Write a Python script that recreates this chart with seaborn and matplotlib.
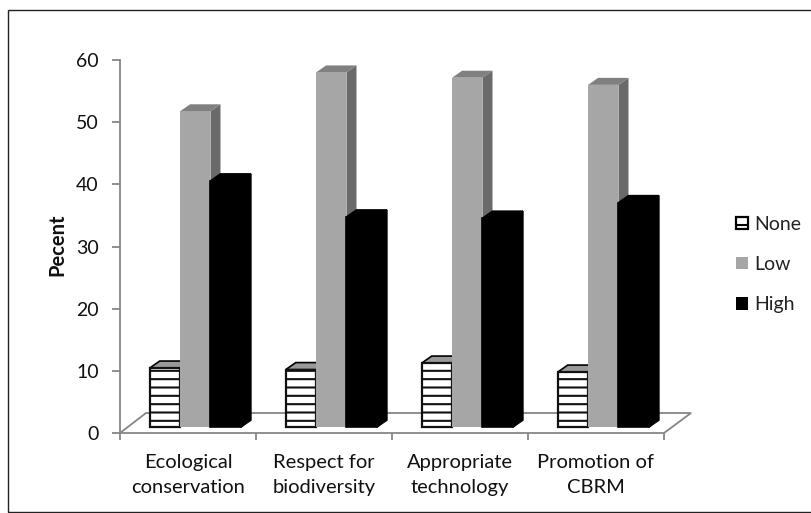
import matplotlib
matplotlib.use('Agg')
import matplotlib.pyplot as plt
import matplotlib.transforms as mtrans
from matplotlib.patches import Polygon, Patch, Rectangle
import pandas as pd
import seaborn as sns

categories = ['Ecological\nconservation', 'Respect for\nbiodiversity',
              'Appropriate\ntechnology', 'Promotion of\nCBRM']
none_vals = [9.5, 9.25, 10.3, 8.85]
low_vals = [50.8, 57.05, 56.2, 55.05]
high_vals = [39.6, 33.8, 33.6, 36.1]
levels = ['None', 'Low', 'High']

df = pd.DataFrame({'cat': categories, 'None': none_vals, 'Low': low_vals, 'High': high_vals})
df = df.melt(id_vars='cat', var_name='level', value_name='pct')

W, H = 812, 513
GREY = '#868686'
sns.set_theme(style='white')
plt.rcParams['font.family'] = ['Lato', 'DejaVu Sans']
plt.rcParams['hatch.linewidth'] = 1.5

fig = plt.figure(figsize=(W / 100, H / 100), dpi=100)
# axes box in pixels: x 120-664, y 60-433
ax = fig.add_axes([120 / W, 1 - 433 / H, 544 / W, 373 / H])

front = {'None': '#ffffff', 'Low': '#a6a6a6', 'High': '#000000'}
sns.barplot(data=df, x='cat', y='pct', hue='level', hue_order=levels, palette=front,
            width=0.67, gap=0, dodge=True, saturation=1, legend=False, ax=ax,
            bottom=0.95, errorbar=None)
ax.set_xlim(-0.5, 3.5)
ax.set_ylim(0, 60)

# 3d look, everything shifted in pixels from the real bars
shift = ax.transData + mtrans.ScaledTranslation(7.3 / 100, 0, fig.dpi_scale_trans)
dx, dy = 10, 7
top_col = {'None': '#ffffff', 'Low': '#808080', 'High': '#000000'}
side_col = {'None': '#ffffff', 'Low': '#6a6a6a', 'High': '#000000'}

for lev, cont in zip(levels, ax.containers):
    for bar in cont:
        bar.set_transform(shift)
        bar.set_clip_on(False)
        x0, y0 = shift.transform((bar.get_x(), bar.get_y()))
        x1, y1 = shift.transform((bar.get_x() + bar.get_width(), bar.get_y() + bar.get_height()))
        side = [(x1, y0), (x1 + dx, y0 + dy), (x1 + dx, y1 + dy), (x1, y1)]
        top = [(x0, y1), (x0 + dx, y1 + dy), (x1 + dx, y1 + dy), (x1, y1)]
        z = 3 + levels.index(lev)
        bar.set_zorder(z + 0.2)
        if lev == 'None':
            bar.set_hatch('--')
            bar.set_edgecolor('#111111')
            bar.set_linewidth(1.6)
            ax.add_patch(Polygon(top, closed=True, transform=None, fc='#999999', ec='black',
                                 lw=1.2, zorder=z, clip_on=False))
        else:
            # same colour edge so no white gap shows between the faces
            ew = 1.2 if lev == 'High' else 0
            bar.set_edgecolor(front[lev])
            bar.set_linewidth(ew)
            ax.add_patch(Polygon(side, closed=True, transform=None, fc=side_col[lev],
                                 ec=side_col[lev], lw=ew, zorder=z, clip_on=False))
            ax.add_patch(Polygon(top, closed=True, transform=None, fc=top_col[lev],
                                 ec=top_col[lev], lw=ew, zorder=z, clip_on=False))

# floor
floor_px = [(120, H - 433), (146, H - 413), (691, H - 413), (664, H - 433)]
ax.add_patch(Polygon(floor_px, closed=False, transform=None, fc='none', ec=GREY, lw=1.3,
                     zorder=1, clip_on=False))

sns.despine(ax=ax, top=True, right=True)
for s in ['left', 'bottom']:
    ax.spines[s].set_color(GREY)
    ax.spines[s].set_linewidth(1.3)

ax.set_xticks([-0.5, 0.5, 1.5, 2.5, 3.5], labels=[])
ax.set_xticks([0, 1, 2, 3], labels=categories, minor=True)
ax.tick_params(axis='x', which='major', length=5, width=1.3, color=GREY, bottom=True)
ax.tick_params(axis='x', which='minor', length=0, pad=15, labelsize=14.5, labelcolor='#111111')
for t in ax.get_xminorticklabels():
    t.set_linespacing(1.6)
ax.set_yticks(range(0, 61, 10))
ax.tick_params(axis='y', length=5.8, width=1.3, color=GREY, left=True, pad=9.5, labelsize=14, labelcolor='#111111')
ax.set_xlabel('')
ax.set_ylabel('')
fig.text(57.5 / W, 1 - 245 / H, 'Pecent', rotation=90, fontsize=14.5, fontweight='bold',
         ha='center', va='center', color='#111111')

handles = [Patch(fc='white', ec='black', lw=1.6, hatch='-', label='None'),
           Patch(fc=front['Low'], ec='none', label='Low'),
           Patch(fc=front['High'], ec='none', label='High')]
leg = fig.legend(handles=handles, loc='center left', bbox_to_anchor=(736 / W, 1 - 264.5 / H),
                 frameon=False, fontsize=14, handlelength=0.62, handleheight=0.62,
                 handletextpad=0.31, labelspacing=1.2, borderpad=0, borderaxespad=0)
for t in leg.get_texts():
    t.set_color('#222222')

# chart border
fig.add_artist(Rectangle((8 / W, 1.5 / H), W / W, (H - 11.5) / H, transform=fig.transFigure,
                         fc='none', ec='#222222', lw=1))

fig.savefig('out.png', dpi=100)
